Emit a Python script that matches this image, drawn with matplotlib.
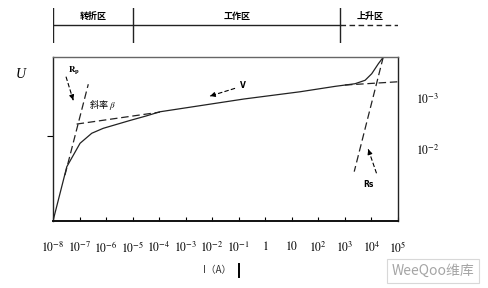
import matplotlib
matplotlib.use("Agg")
import matplotlib.pyplot as plt
from matplotlib.lines import Line2D
import numpy as np

plt.rcParams['font.family'] = ['Noto Sans CJK SC', 'DejaVu Sans']
plt.rcParams['mathtext.fontset'] = 'stix'

# ---- data (log10 of current I, relative voltage U in 0..1) ----
curve_logI = [-8.0, -7.48, -6.98, -6.54, -6.11, -5.10, -4.50, -3.97, -0.80, 1.31, 2.63, 3.38, 3.76, 4.01, 4.26, 4.45]
curve_U    = [0.0, 0.331, 0.474, 0.535, 0.565, 0.613, 0.640, 0.666, 0.744, 0.788, 0.821, 0.837, 0.858, 0.898, 0.959, 1.0]

rp_logI   = [-7.55, -6.67]
rp_U      = [0.280, 0.834]
beta_logI = [-7.11, -3.97]
beta_U    = [0.591, 0.664]
up_logI   = [3.0, 5.0]
up_U      = [0.829, 0.849]
rs_logI   = [4.445, 3.35]
rs_U      = [1.0, 0.301]

tick_exp = list(range(-8, 6))
tick_labels = [r'$10^{-8}$', r'$10^{-7}$', r'$10^{-6}$', r'$10^{-5}$', r'$10^{-4}$',
               r'$10^{-3}$', r'$10^{-2}$', r'$10^{-1}$', r'$1$', r'$10$',
               r'$10^{2}$', r'$10^{3}$', r'$10^{4}$', r'$10^{5}$']

region_bounds = [-8, -5, 2.8, 5]
region_names = ['转折区', '工作区', '上升区']
region_label_x = [-6.49, -1.07, 3.94]

W, H = 488, 288
fig = plt.figure(figsize=(W / 100, H / 100), dpi=100)

def px_rect(x0, y0, x1, y1):
    return [x0 / W, 1 - y1 / H, (x1 - x0) / W, (y1 - y0) / H]

ax = fig.add_axes(px_rect(53, 57, 398, 221))
ax.set_xscale('log')
ax.set_xlim(1e-8, 1e5)
ax.set_ylim(0, 1)

def P(v):
    return [10.0 ** e for e in v]

ax.plot(P(curve_logI), curve_U, color='#222222', lw=0.9, solid_joinstyle='round')
dash = (0, (6, 3))
for xs, ys in [(rp_logI, rp_U), (beta_logI, beta_U), (up_logI, up_U), (rs_logI, rs_U)]:
    ax.plot(P(xs), ys, color='#222222', lw=0.9, linestyle=dash)

# arrows (dashed shafts, solid heads)
arrows = [((-7.51, 0.88), (-7.24, 0.738)),
          ((-1.14, 0.809), (-2.08, 0.762)),
          ((4.19, 0.291), (3.88, 0.437))]
for (x0, y0), (x1, y1) in arrows:
    ax.plot([10 ** x0, 10 ** x1], [y0, y1], color='k', lw=0.8, linestyle=(0, (4, 2)))
    xm = x1 - 0.12 * (x1 - x0)
    ym = y1 - 0.12 * (y1 - y0)
    ax.annotate('', xy=(10 ** x1, y1), xytext=(10 ** xm, ym),
                arrowprops=dict(arrowstyle='-|>', color='k', lw=0.8, mutation_scale=7))

ax.text(10 ** -7.22, 0.92, r'$\mathbf{R}_{\mathbf{p}}$', fontsize=6.5, ha='center', va='center')
ax.text(10 ** -0.83, 0.829, 'V', fontsize=5.5, fontweight='bold', ha='center', va='center',
        family='DejaVu Sans')
ax.text(10 ** 3.88, 0.22, 'Rs', fontsize=5.5, fontweight='bold', ha='center', va='center',
        family='DejaVu Sans')
ax.text(10 ** -6.15, 0.705, '斜率 $\\beta$', fontsize=6.5, ha='center', va='center')

ax.set_xticks([10.0 ** e for e in tick_exp])
ax.set_xticklabels(tick_labels, fontsize=8.5)
ax.xaxis.set_minor_locator(matplotlib.ticker.NullLocator())
ax.tick_params(axis='x', direction='in', length=3, width=0.8, pad=14, top=False)
ax.set_yticks([0.518])
ax.set_yticklabels([''])
ax.tick_params(axis='y', direction='out', length=4, width=0.8, right=False)
for side in ['left', 'right']:
    ax.spines[side].set_linewidth(1.0)
    ax.spines[side].set_color('#222222')
ax.spines['bottom'].set_linewidth(1.4)
ax.spines['bottom'].set_color('#111111')
ax.spines['top'].set_linewidth(1.0)
ax.spines['top'].set_color('#666666')

# top region band
band = fig.add_axes(px_rect(53, 8, 398, 43))
band.set_xscale('log')
band.set_xlim(1e-8, 1e5)
band.set_ylim(0, 1)
band.axis('off')
for b in region_bounds[:3]:
    band.plot([10 ** b, 10 ** b], [0, 1], color='#222222', lw=1.0)
band.plot([10 ** region_bounds[0], 10 ** region_bounds[2]], [0.514, 0.514], color='#222222', lw=1.0)
band.plot([10 ** region_bounds[2], 10 ** region_bounds[3]], [0.514, 0.514], color='#222222', lw=1.0,
          linestyle=(0, (4, 2.5)))
for name, lx in zip(region_names, region_label_x):
    band.text(10 ** lx, 0.77, name, fontsize=6.5, ha='center', va='center', fontweight='bold')

# axis labels and right-side labels
fig.text(21 / W, 1 - 74 / H, 'U', fontsize=10, style='italic', family='Liberation Serif',
         ha='center', va='center')
fig.text(217 / W, 1 - 270 / H, 'I（A）', fontsize=7, ha='center', va='center', color='#333333')
fig.add_artist(Line2D([239 / W, 239 / W], [1 - 264 / H, 1 - 277 / H], color='k', lw=1.4))
fig.text(428 / W, 1 - 100 / H, r'$10^{-3}$', fontsize=8.5, ha='center', va='center')
fig.text(428 / W, 1 - 151 / H, r'$10^{-2}$', fontsize=8.5, ha='center', va='center')

# watermark
fig.text(433 / W, 1 - 271 / H, 'WeeQoo维库', fontsize=10, ha='center', va='center', color='#a5a5a5',
         style='italic',
         bbox=dict(boxstyle='square,pad=0.35', fc='white', ec='#d8d8d8', lw=0.8))

fig.savefig('out.png', dpi=100)
